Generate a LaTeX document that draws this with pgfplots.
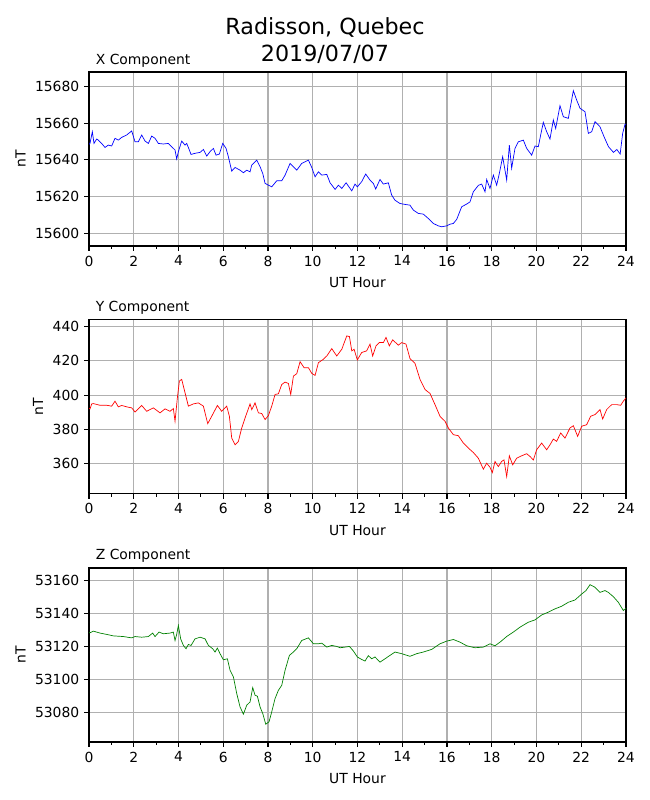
\documentclass[border=0pt]{standalone}
\usepackage{fontspec}
\setmainfont{DejaVu Sans}
\usepackage{pgfplots}
\pgfplotsset{compat=1.18}
\definecolor{gridgray}{RGB}{176,176,176}
\definecolor{mplgreen}{RGB}{0,128,0}
\pgfplotsset{
  mystyle/.style={
    scale only axis, width=386.64pt, height=125.28pt,
    anchor=south west,
    xmin=0, xmax=24,
    xtick={0,2,...,24}, minor xtick={1,3,...,23},
    grid=major,
    major grid style={color=gridgray, line width=0.8pt},
    axis line style={line width=0.8pt},
    every tick/.style={black, line width=0.8pt},
    major tick length=3.5pt, minor tick length=2pt,
    tick align=outside, tick pos=left,
    ticklabel style={font=\fontsize{10}{12}\selectfont},
    label style={font=\fontsize{10}{12}\selectfont},
    xlabel style={yshift=-1.4pt},
    scaled y ticks=false,
    /pgf/number format/assume math mode=true,
    /pgf/number format/1000 sep={},
    yticklabel style={/pgf/number format/fixed, /pgf/number format/precision=0},
    xlabel={UT Hour}, ylabel={nT},
    ytick distance=20,
  }
}
\begin{document}
\begin{tikzpicture}
\useasboundingbox (0,0) rectangle (468pt,576pt);
\node[anchor=base, font=\fontsize{16}{19}\selectfont] at (234pt,551.3pt) {Radisson, Quebec};
\node[anchor=base, font=\fontsize{16}{19}\selectfont] at (234pt,531.6pt) {2019/07/07};
\node[anchor=base west, inner sep=0pt, font=\fontsize{10}{12}\selectfont] at (68.8pt,529.7pt) {X Component};
\node[anchor=base west, inner sep=0pt, font=\fontsize{10}{12}\selectfont] at (68.8pt,351.9pt) {Y Component};
\node[anchor=base west, inner sep=0pt, font=\fontsize{10}{12}\selectfont] at (68.8pt,173.3pt) {Z Component};

% X component
\begin{axis}[mystyle, at={(64.08pt,398.88pt)}, ymin=15593, ymax=15688]
\addplot[blue, line width=0.5pt] coordinates {
(0.0,15648.5) (0.045,15649.0) (0.149,15655.4) (0.224,15649.0) (0.343,15651.4) (0.417,15650.8)
(0.566,15649.0) (0.715,15646.8) (0.864,15648.1) (1.013,15647.6) (1.162,15651.8) (1.311,15650.8)
(1.461,15652.3) (1.684,15653.6) (1.908,15655.8) (2.057,15649.9) (2.206,15649.9) (2.355,15653.6)
(2.504,15650.3) (2.653,15649.0) (2.802,15653.0) (2.951,15651.8) (3.100,15649.0) (3.323,15648.7)
(3.547,15649.0) (3.696,15647.2) (3.845,15645.4) (3.919,15640.5) (3.994,15644.5) (4.143,15650.3)
(4.292,15648.1) (4.367,15649.0) (4.441,15646.8) (4.560,15643.0) (4.739,15643.6) (4.963,15644.1)
(5.112,15645.7) (5.261,15642.1) (5.410,15644.5) (5.559,15646.3) (5.678,15642.6) (5.827,15643.2)
(5.976,15649.0) (6.125,15646.3) (6.230,15641.7) (6.379,15633.9) (6.528,15635.9) (6.751,15634.4)
(6.900,15633.0) (7.049,15634.4) (7.198,15633.5) (7.273,15637.2) (7.496,15639.9) (7.645,15636.3)
(7.765,15632.6) (7.869,15627.2) (8.018,15626.2) (8.167,15625.3) (8.390,15628.6) (8.614,15628.6)
(8.763,15631.7) (8.987,15638.1) (9.136,15636.3) (9.285,15634.4) (9.508,15638.1) (9.806,15639.9)
(9.955,15635.9) (10.104,15630.8) (10.253,15633.5) (10.402,15631.7) (10.626,15632.1) (10.775,15627.5)
(10.999,15623.9) (11.148,15626.2) (11.297,15624.4) (11.490,15627.5) (11.744,15623.1) (11.888,15626.8)
(11.993,15625.3) (12.186,15628.1) (12.365,15632.3) (12.559,15629.0) (12.708,15627.2) (12.812,15624.1)
(13.006,15629.3) (13.155,15626.8) (13.378,15627.5) (13.527,15620.8) (13.676,15618.0) (13.899,15616.2)
(14.123,15615.7) (14.346,15615.3) (14.495,15612.6) (14.719,15610.8) (14.942,15610.4) (15.166,15608.0)
(15.389,15605.3) (15.613,15604.0) (15.762,15603.5) (15.985,15604.0) (16.134,15604.9) (16.283,15605.3)
(16.432,15607.5) (16.656,15614.4) (16.879,15615.9) (17.028,15617.1) (17.177,15622.6) (17.401,15626.1)
(17.550,15626.8) (17.699,15622.6) (17.773,15629.3) (17.922,15624.4) (18.071,15631.7) (18.220,15626.2)
(18.339,15632.6) (18.488,15641.7) (18.592,15634.4) (18.667,15629.0) (18.786,15648.1) (18.890,15635.4)
(19.039,15646.3) (19.188,15649.9) (19.412,15650.8) (19.561,15646.3) (19.784,15642.6) (19.933,15647.6)
(20.082,15647.2) (20.186,15653.6) (20.305,15660.5) (20.454,15655.4) (20.603,15651.4) (20.752,15661.8)
(20.857,15657.2) (21.050,15669.6) (21.199,15663.6) (21.423,15662.7) (21.646,15677.8) (21.795,15672.7)
(21.944,15668.2) (22.168,15666.3) (22.317,15654.5) (22.466,15655.4) (22.615,15660.9) (22.838,15658.1)
(23.017,15652.7) (23.218,15647.2) (23.441,15644.1) (23.590,15645.7) (23.739,15643.2) (23.851,15654.5)
(23.955,15659.4) (24.0,15659.5)
};
\end{axis}

% Y component
\begin{axis}[mystyle, at={(64.08pt,220.5pt)}, ymin=342.6, ymax=443.9]
\addplot[red, line width=0.5pt] coordinates {
(0.0,392.5) (0.045,392.0) (0.119,394.9) (0.194,395.1) (0.492,394.1) (0.790,394.1) (1.013,393.6)
(1.162,396.5) (1.311,393.2) (1.461,394.0) (1.684,393.2) (1.908,392.6) (2.057,390.2) (2.355,394.0)
(2.578,390.6) (2.876,392.6) (3.174,389.7) (3.398,392.0) (3.621,390.6) (3.770,392.2) (3.845,384.8)
(3.949,398.4) (4.039,408.2) (4.143,409.2) (4.292,401.4) (4.441,393.6) (4.665,394.9) (4.888,395.5)
(5.112,393.6) (5.306,383.4) (5.484,387.7) (5.738,394.0) (5.931,390.6) (6.155,393.6) (6.274,387.7)
(6.379,375.0) (6.528,371.1) (6.677,373.1) (6.826,380.9) (6.975,386.7) (7.198,394.9) (7.273,391.6)
(7.422,395.5) (7.571,389.7) (7.720,389.3) (7.869,385.8) (8.018,388.1) (8.167,393.6) (8.316,400.4)
(8.465,400.8) (8.614,406.2) (8.763,407.6) (8.912,406.8) (9.016,400.4) (9.136,411.1) (9.285,412.5)
(9.434,419.5) (9.613,416.0) (9.806,416.0) (9.955,412.7) (10.104,411.5) (10.253,418.9) (10.477,420.9)
(10.626,422.8) (10.850,427.1) (11.073,422.8) (11.297,426.7) (11.520,434.5) (11.640,434.1) (11.744,425.8)
(11.848,426.7) (11.993,420.5) (12.186,424.8) (12.410,425.8) (12.559,429.7) (12.678,422.8) (12.827,428.7)
(12.976,430.6) (13.155,430.6) (13.274,433.6) (13.423,428.7) (13.572,432.2) (13.825,429.1) (13.974,430.6)
(14.168,429.7) (14.346,421.3) (14.570,418.5) (14.793,409.2) (15.017,403.3) (15.240,401.0) (15.464,394.5)
(15.687,387.7) (15.911,384.8) (16.060,380.9) (16.283,377.0) (16.507,376.4) (16.730,372.1) (16.954,369.2)
(17.177,366.6) (17.401,363.3) (17.624,356.9) (17.773,360.4) (17.922,358.0) (18.026,354.9) (18.145,361.4)
(18.294,358.4) (18.443,361.4) (18.548,362.3) (18.667,352.6) (18.786,364.7) (18.935,359.4) (19.114,363.3)
(19.337,364.7) (19.561,365.9) (19.710,364.3) (19.859,362.3) (20.007,368.2) (20.231,372.1) (20.454,368.2)
(20.603,371.1) (20.752,374.4) (20.901,373.1) (21.080,378.0) (21.274,375.0) (21.497,380.9) (21.646,382.2)
(21.840,376.0) (22.019,381.9) (22.242,382.8) (22.421,387.7) (22.615,388.7) (22.838,391.6) (22.957,386.1)
(23.136,391.6) (23.359,394.5) (23.583,394.5) (23.762,394.1) (23.881,396.5) (24.0,398.4)
};
\end{axis}

% Z component
\begin{axis}[mystyle, at={(64.08pt,41.76pt)}, ymin=53062.1, ymax=53167.7]
\addplot[mplgreen, line width=0.5pt] coordinates {
(0.0,53128.6) (0.045,53128.4) (0.194,53129.4) (0.492,53128.2) (0.790,53127.4) (1.088,53126.5)
(1.535,53126.1) (1.908,53125.3) (2.057,53126.1) (2.355,53125.7) (2.653,53126.1) (2.846,53128.2)
(2.951,53126.1) (3.130,53128.8) (3.323,53127.8) (3.621,53128.2) (3.770,53128.8) (3.845,53123.7)
(3.919,53127.4) (3.994,53132.8) (4.098,53124.7) (4.218,53120.7) (4.337,53118.7) (4.441,53121.3)
(4.560,53120.7) (4.739,53124.7) (4.963,53125.7) (5.186,53124.7) (5.335,53120.7) (5.529,53118.7)
(5.633,53116.7) (5.738,53119.1) (5.857,53115.7) (6.006,53112.0) (6.185,53112.6) (6.304,53105.6)
(6.453,53101.6) (6.602,53091.5) (6.751,53083.4) (6.900,53079.0) (7.049,53084.4) (7.198,53086.4)
(7.317,53095.1) (7.422,53090.5) (7.526,53089.9) (7.645,53083.4) (7.765,53079.4) (7.899,53072.9)
(8.048,53074.4) (8.167,53080.4) (8.316,53088.5) (8.465,53093.5) (8.614,53096.5) (8.763,53105.6)
(8.957,53114.7) (9.136,53116.7) (9.285,53118.7) (9.508,53123.7) (9.806,53125.3) (10.030,53121.7)
(10.253,53121.7) (10.402,53122.1) (10.626,53119.7) (10.850,53120.7) (11.073,53120.1) (11.222,53119.3)
(11.446,53119.7) (11.640,53120.1) (11.818,53117.3) (11.993,53113.7) (12.186,53112.2) (12.335,53111.2)
(12.484,53114.5) (12.633,53112.6) (12.782,53113.7) (13.006,53110.6) (13.229,53112.6) (13.453,53114.7)
(13.676,53116.7) (13.974,53115.7) (14.346,53114.1) (14.644,53115.7) (14.942,53116.7) (15.315,53118.3)
(15.687,53121.7) (15.985,53123.3) (16.283,53124.3) (16.581,53122.7) (16.879,53120.5) (17.251,53119.3)
(17.624,53119.7) (17.922,53121.7) (18.145,53120.5) (18.369,53122.7) (18.667,53126.1) (18.965,53128.8)
(19.263,53131.8) (19.635,53134.8) (19.933,53136.2) (20.231,53139.2) (20.529,53140.9) (20.827,53142.9)
(21.125,53144.5) (21.423,53146.9) (21.721,53148.3) (22.019,53151.9) (22.213,53154.0) (22.391,53157.6)
(22.615,53156.0) (22.838,53152.9) (23.061,53154.0) (23.210,53152.9) (23.434,53150.3) (23.657,53146.9)
(23.881,53141.9) (24.0,53143.3)
};
\end{axis}
\end{tikzpicture}
\end{document}
